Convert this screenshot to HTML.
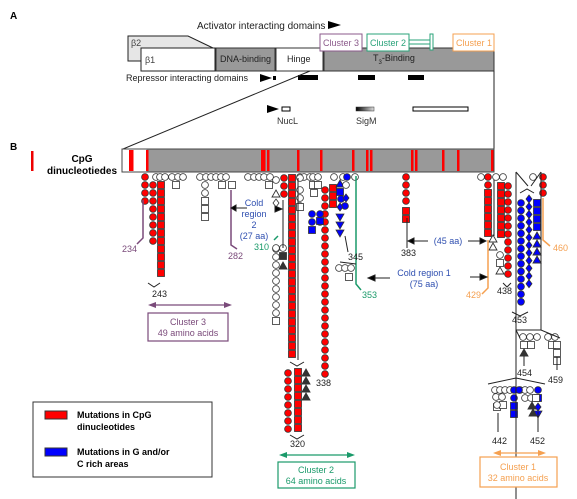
<!DOCTYPE html>
<html><head><meta charset="utf-8"><style>
html,body{margin:0;padding:0;background:#fff;width:577px;height:499px;overflow:hidden}
svg{display:block;font-family:"Liberation Sans","DejaVu Sans",sans-serif}
</style></head><body>
<svg id="s" width="577" height="499" viewBox="0 0 577 499" xmlns="http://www.w3.org/2000/svg">
<text x="10" y="19" font-size="10" font-weight="bold">A</text>
<text x="197" y="29" font-size="10" fill="#222">Activator interacting domains</text>
<polygon points="328,21 341,25 328,29" fill="#000"/>
<polygon points="128,36 188,36 213,48 141,48 141,61 128,61" fill="#e6e6e6" stroke="#222"/>
<text x="131" y="46" font-size="9" fill="#444">β2</text>
<rect x="141" y="48" width="74" height="23" fill="#fff" stroke="#222"/>
<text x="145" y="63" font-size="9" fill="#444">β1</text>
<rect x="216" y="48" width="59" height="23" fill="#999" stroke="#333"/>
<text x="220" y="62" font-size="9" fill="#222">DNA-binding</text>
<rect x="276" y="48" width="47" height="23" fill="#fff" stroke="#333"/>
<text x="287" y="62" font-size="9" fill="#222">Hinge</text>
<rect x="324" y="48" width="170" height="23" fill="#999" stroke="#333"/>
<text x="373" y="61" font-size="9" fill="#222">T<tspan font-size="6" dy="3">3</tspan><tspan dy="-3">-Binding</tspan></text>
<rect x="320" y="34" width="42" height="17" fill="#fff" stroke="#8b5a8b"/>
<text x="323" y="46" font-size="9" fill="#8b5a8b">Cluster 3</text>
<rect x="367" y="34" width="42" height="17" fill="#fff" stroke="#2aa37a"/>
<text x="370" y="46" font-size="9" fill="#2aa37a">Cluster 2</text>
<line x1="409" y1="40" x2="430" y2="40" stroke="#2aa37a"/><line x1="409" y1="44" x2="430" y2="44" stroke="#2aa37a"/>
<rect x="430" y="34" width="3" height="16" fill="#fff" stroke="#2aa37a"/>
<rect x="453" y="34" width="41" height="17" fill="#fff" stroke="#f5a050"/>
<text x="456" y="46" font-size="9" fill="#f5a050">Cluster 1</text>
<text x="126" y="81" font-size="9" fill="#222">Repressor interacting domains</text>
<polygon points="260,74 272,78 260,82" fill="#000"/>
<rect x="273" y="76" width="3" height="4" fill="#000"/>
<rect x="298" y="75" width="20" height="5" fill="#000"/>
<rect x="358" y="75" width="17" height="5" fill="#000"/>
<rect x="408" y="75" width="16" height="5" fill="#000"/>
<polygon points="267,105 279,109 267,113" fill="#000"/>
<rect x="282" y="107" width="8" height="4" fill="#fff" stroke="#000"/>
<text x="277" y="124" font-size="9" fill="#333">NucL</text>
<defs><linearGradient id="g"><stop offset="0" stop-color="#000"/><stop offset="1" stop-color="#ddd"/></linearGradient></defs>
<rect x="356" y="107" width="18" height="4" fill="url(#g)" stroke="#333" stroke-width=".5"/>
<text x="356" y="124" font-size="9" fill="#333">SigM</text>
<rect x="413" y="107" width="55" height="4" fill="#fff" stroke="#000"/>
<line x1="123" y1="149" x2="310" y2="71" stroke="#222"/>
<line x1="494" y1="71" x2="494" y2="149" stroke="#222"/>
<text x="10" y="150" font-size="10" font-weight="bold">B</text>
<rect x="31" y="151" width="2.5" height="20" fill="#e00"/>
<text x="82" y="162" font-size="10" font-weight="bold" text-anchor="middle">CpG</text>
<text x="82" y="174" font-size="10" font-weight="bold" text-anchor="middle">dinucleotiedes</text>
<rect x="122" y="149" width="372" height="23" fill="#999" stroke="#444"/>
<rect x="122.5" y="149.5" width="24" height="22" fill="#fff"/>
<g id="cpg"></g>
<g id="sym"></g>
<g fill="none" stroke-width="1.5">
<polyline points="143,200 143,238 137,244" stroke="#7a4a7a"/>
<polyline points="231,190 231,245 237,249" stroke="#7a4a7a"/>
<polyline points="356,176 356,284 361,290" stroke="#1a9a6a"/>
<line x1="274" y1="240" x2="278" y2="236" stroke="#1a9a6a"/>
<polyline points="488,240 488,288 482,294" stroke="#f5a050"/>
<polyline points="543,198 543,240 550,246" stroke="#f5a050"/>
</g>
<g stroke="#222" fill="none" stroke-width="1">
<line x1="283" y1="200" x2="283" y2="248"/><line x1="298" y1="178" x2="298" y2="360"/>
<line x1="407" y1="218" x2="407" y2="248"/>
<line x1="494" y1="180" x2="494" y2="236"/>
<line x1="516" y1="172" x2="516" y2="499"/><line x1="541" y1="172" x2="541" y2="330"/>
<line x1="516" y1="172" x2="528" y2="186"/><line x1="541" y1="172" x2="531" y2="186"/>
<polyline points="516,330 541,330 560,338"/><polyline points="516,330 520,338"/>
<line x1="524" y1="356" x2="524" y2="366"/><line x1="557" y1="357" x2="557" y2="370"/>
<polyline points="488,384 516,378 545,384"/>
<line x1="498" y1="413" x2="498" y2="432"/><line x1="538" y1="412" x2="538" y2="432"/>
<polyline points="148,283 154,287 160,283"/><polyline points="290,362 297,366 304,362"/>
<polyline points="290,435 297,439 304,435"/><polyline points="503,283 507,287 511,283"/>
<polyline points="512,312 520,316 528,312"/><polyline points="520,193 527,189 534,193"/>
<line x1="345" y1="236" x2="348" y2="252"/><polyline points="340,262 356,264"/>
</g>
<g font-size="9">
<text x="122" y="252" fill="#7a4a7a">234</text>
<text x="152" y="297" fill="#222">243</text>
<text x="228" y="259" fill="#7a4a7a">282</text>
<text x="254" y="250" fill="#1a9a6a">310</text>
<text x="348" y="260" fill="#222">345</text>
<text x="316" y="386" fill="#222">338</text>
<text x="290" y="447" fill="#222">320</text>
<text x="362" y="298" fill="#1a9a6a">353</text>
<text x="401" y="256" fill="#222">383</text>
<text x="466" y="298" fill="#f5a050">429</text>
<text x="497" y="294" fill="#222">438</text>
<text x="553" y="251" fill="#f5a050">460</text>
<text x="512" y="323" fill="#222">453</text>
<text x="517" y="376" fill="#222">454</text>
<text x="548" y="383" fill="#222">459</text>
<text x="492" y="444" fill="#222">442</text>
<text x="530" y="444" fill="#222">452</text>
</g>
<g font-size="9" fill="#2f4fb0" text-anchor="middle">
<text x="254" y="206">Cold</text><text x="254" y="217">region</text><text x="254" y="228">2</text><text x="254" y="239">(27 aa)</text>
<text x="448" y="244">(45 aa)</text>
<text x="424" y="276">Cold region 1</text><text x="424" y="287">(75 aa)</text>
</g>
<g stroke="#222" fill="#000">
<line x1="236" y1="208" x2="247" y2="208"/><polygon points="236,205 231,208 236,211"/>
<polygon points="275,206 282,209 275,212"/>
<line x1="375" y1="278" x2="390" y2="278"/><polygon points="375,275 368,278 375,281"/>
<line x1="414" y1="241" x2="428" y2="241"/><polygon points="414,238 408,241 414,244"/>
<line x1="468" y1="241" x2="480" y2="241"/><polygon points="480,238 486,241 480,244"/>
<line x1="470" y1="277" x2="480" y2="277"/><polygon points="480,274 487,277 480,280"/>
</g>
<g stroke-width="1.2">
<line x1="152" y1="305" x2="228" y2="305" stroke="#7a4a7a"/><polygon points="148,305 156,302 156,308" fill="#7a4a7a"/><polygon points="232,305 224,302 224,308" fill="#7a4a7a"/>
<rect x="148" y="313" width="80" height="28" fill="#fff" stroke="#7a4a7a"/>
<line x1="282" y1="455" x2="352" y2="455" stroke="#1a9a6a"/><polygon points="279,455 287,452 287,458" fill="#1a9a6a"/><polygon points="355,455 347,452 347,458" fill="#1a9a6a"/>
<rect x="278" y="462" width="77" height="26" fill="#fff" stroke="#1a9a6a"/>
<line x1="496" y1="453" x2="543" y2="453" stroke="#f5a050"/><polygon points="493,453 501,450 501,456" fill="#f5a050"/><polygon points="546,453 538,450 538,456" fill="#f5a050"/>
<rect x="480" y="457" width="77" height="30" fill="#fff" stroke="#f5a050"/>
</g>
<g font-size="9" text-anchor="middle">
<text x="188" y="325" fill="#7a4a7a">Cluster 3</text><text x="188" y="336" fill="#7a4a7a">49 amino acids</text>
<text x="316" y="473" fill="#1a9a6a">Cluster 2</text><text x="316" y="484" fill="#1a9a6a">64 amino acids</text>
<text x="518" y="470" fill="#f5a050">Cluster 1</text><text x="518" y="481" fill="#f5a050">32 amino acids</text>
</g>
<rect x="33" y="402" width="179" height="75" fill="#fff" stroke="#333"/>
<rect x="45" y="411" width="22" height="8" fill="#f00" stroke="#333"/>
<rect x="45" y="448" width="22" height="8" fill="#00f" stroke="#333"/>
<g font-size="9" font-weight="bold">
<text x="77" y="418">Mutations in CpG</text><text x="77" y="430">dinucleotides</text>
<text x="77" y="455">Mutations in G and/or</text><text x="77" y="467">C rich areas</text>
</g>
</svg>
<script>
var NS="http://www.w3.org/2000/svg",G=document.getElementById("sym"),C=document.getElementById("cpg");
function el(t,a,p){var e=document.createElementNS(NS,t);for(var k in a)e.setAttribute(k,a[k]);(p||G).appendChild(e);return e;}
[130,132,147,262,264,268,298,321,353,367,371,412,416,443,458,492].forEach(function(x){el("rect",{x:x-1,y:150,width:2.5,height:21,fill:"#f00"},C);});
var F={r:"#f00",b:"#00f",w:"#fff",k:"#333"};
function sym(t,x,y,f){var fill=F[f],st="#333";
 if(t=="c")el("circle",{cx:x,cy:y,r:3.4,fill:fill,stroke:st,"stroke-width":.8});
 else if(t=="s")el("rect",{x:x-3.5,y:y-3.5,width:7,height:7,fill:fill,stroke:st,"stroke-width":.8});
 else if(t=="t")el("polygon",{points:(x)+","+(y-4)+" "+(x+4)+","+(y+3)+" "+(x-4)+","+(y+3),fill:fill,stroke:st,"stroke-width":.9});
 else if(t=="v")el("polygon",{points:(x-4)+","+(y-3)+" "+(x+4)+","+(y-3)+" "+x+","+(y+4),fill:fill,stroke:st,"stroke-width":.8});
 else if(t=="d")el("polygon",{points:x+","+(y-4)+" "+(x+3)+","+y+" "+x+","+(y+4)+" "+(x-3)+","+y,fill:fill,stroke:st,"stroke-width":.8});}
function col(t,x,y0,n,f,st){st=st||8;for(var i=0;i<n;i++)sym(t,x,y0+i*st,f);}
function row(t,xs,y,f){xs.forEach(function(x){sym(t,x,y,f);});}
row("c",[156,160,165,172,178,183,200,206,211,216,221,226,248,254,259,264,270,300,304,310,313,318,334,343,355,481,496,503,533],177,"w");
col("c",145,177,4,"r");col("c",153,185,8,"r");col("s",161,185,12,"r");
sym("s",176,185,"w");col("c",205,185,2,"w");col("s",205,201,3,"w");sym("s",222,185,"w");sym("s",232,185,"w");
sym("c",276,180,"w");sym("s",269,185,"w");sym("t",276,194,"w");sym("d",276,203,"w");
col("c",284,178,3,"r");col("s",292,178,23,"r");
sym("c",300,178,"w");col("c",300,190,3,"w");sym("s",300,207,"w");
sym("s",313,185,"w");sym("s",318,185,"w");sym("s",314,193,"w");
col("c",325,190,24,"r");col("s",333,188,3,"r");
row("c",[312,320],214,"b");row("c",[312,320],222,"b");sym("s",312,230,"b");sym("s",320,221,"b");
sym("t",340,184,"b");col("s",340,192,1,"b");sym("c",341,199,"b");sym("d",346,198,"b");sym("c",345,206,"b");sym("d",340,207,"b");col("v",340,217,3,"b");
sym("c",347,177,"b");col("c",346,185,1,"w");
col("c",276,249,9,"w");sym("s",276,321,"w");row("c",[276,283],248,"w");sym("s",283,256,"k");sym("t",283,266,"k");
row("c",[339,345,351],268,"w");sym("s",349,277,"w");
col("c",288,373,8,"r");col("s",298,372,8,"r");
for(var i=0;i<4;i++)sym("t",306,373+i*8,"k");
col("c",406,177,4,"r");col("s",406,211,2,"r");
col("c",488,177,2,"r");col("s",488,193,6,"r",8);col("t",493,239,2,"w");
col("s",501,186,7,"r");col("c",508,186,12,"r",8);
sym("c",500,255,"w");sym("s",500,263,"w");sym("t",500,271,"w");
col("c",521,203,14,"b",7.6);col("d",529,199,12,"b",7.7);col("s",537,203,4,"b");col("t",537,236,4,"b");
col("c",543,177,3,"r");
row("c",[523,530,537],337,"w");row("s",[524,531],345,"w");sym("t",524,353,"k");
row("c",[548,555],337,"w");row("s",[552,557],345,"w");sym("s",557,353,"w");sym("s",557,361,"w");
row("c",[495,500,505,510,520,525,530],390,"w");sym("c",514,390,"b");sym("c",538,390,"b");sym("c",519,390,"b");
row("c",[496,502],397,"w");sym("s",497,407,"w");sym("s",503,405,"w");sym("c",497,405,"w");sym("c",514,398,"b");col("s",514,406,2,"b");
row("c",[525,531],398,"w");sym("s",538,398,"b");sym("t",532,406,"k");sym("d",538,407,"b");sym("t",533,413,"k");sym("v",538,414,"b");sym("s",536,398,"w");
</script>
</body></html>
